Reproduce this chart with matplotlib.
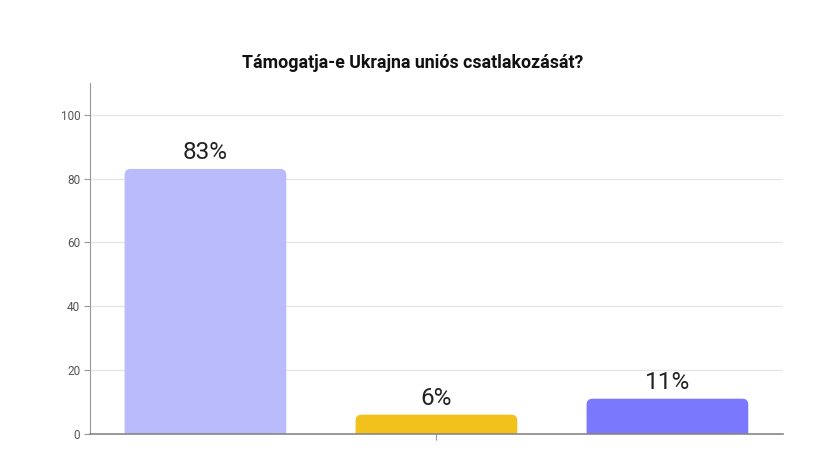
import matplotlib
matplotlib.use("Agg")
import matplotlib.pyplot as plt
from matplotlib.patches import FancyBboxPatch

title = "Támogatja-e Ukrajna uniós csatlakozását?"
values = [83, 6, 11]
labels = ["83%", "6%", "11%"]
colors = ["#b9bbfd", "#f3c11b", "#7a78fc"]
yticks = [0, 20, 40, 60, 80, 100]

plt.rcParams['font.family'] = ['Roboto', 'DejaVu Sans']

fig = plt.figure(figsize=(8.25, 4.5), dpi=100)
ax = fig.add_axes([0.109, 0.036, 0.84, 0.78])
ax.set_xlim(-0.5, 2.5)
ax.set_ylim(0, 110)

# px per data unit, used to keep the corner radius round
px_x = 0.84 * 825 / 3.0
px_y = 0.78 * 450 / 110.0
r = 6 / px_x
aspect = px_x / px_y
width = 0.7

for i, v in enumerate(values):
    box = FancyBboxPatch((i - width / 2, -r * aspect), width, v + r * aspect,
                         boxstyle="round,pad=0,rounding_size=%f" % r,
                         mutation_aspect=aspect, facecolor=colors[i],
                         edgecolor="none", zorder=2)
    ax.add_patch(box)
    ax.text(i, v + 1.6, labels[i], ha="center", va="bottom", fontsize=17.5,
            color="#222222", zorder=3)

ax.set_yticks(yticks)
ax.set_yticklabels([str(t) for t in yticks], fontsize=8.5, color="#555555")
ax.set_xticks([1])
ax.set_xticklabels([""])
ax.yaxis.grid(True, color="#e6e6e6", linewidth=1, zorder=0)
ax.set_axisbelow(True)
for s in ["top", "right"]:
    ax.spines[s].set_visible(False)
ax.spines["left"].set_color("#999999")
ax.spines["bottom"].set_color("#888888")
ax.spines["bottom"].set_linewidth(1.2)
ax.tick_params(axis="y", length=4, color="#999999", pad=3)
ax.tick_params(axis="x", length=4, color="#999999")

fig.text(0.5, 0.86, title, ha="center", va="center", fontsize=12.8,
         fontweight="bold", color="#111111")

fig.savefig("out.png", dpi=100, facecolor="white")
